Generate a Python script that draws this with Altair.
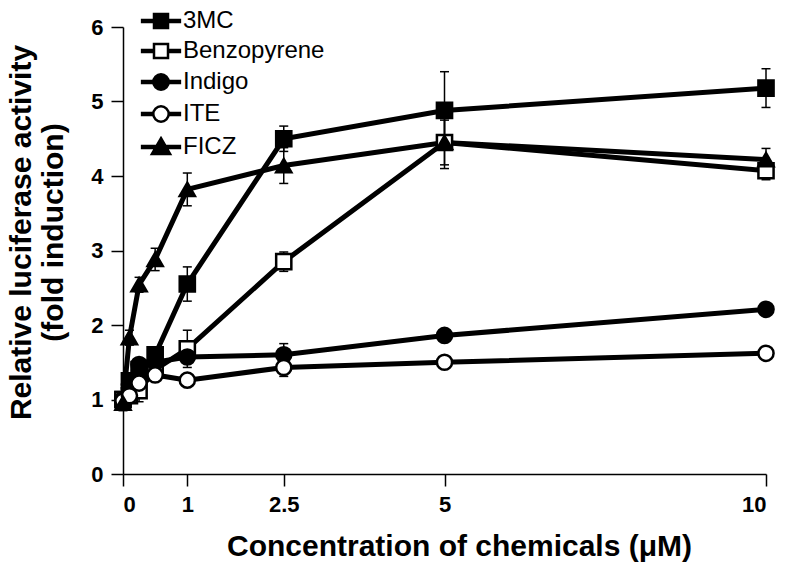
import altair as alt
import pandas as pd

# ---- data ----
conc = [0, 0.1, 0.25, 0.5, 1, 2.5, 5, 10]
series = ["3MC", "Benzopyrene", "Indigo", "ITE", "FICZ"]

mc3_mean = [1.0, 1.25, 1.4, 1.6, 2.55, 4.5, 4.88, 5.18]
mc3_err = [0.05, 0.1, 0.1, 0.1, 0.23, 0.17, 0.52, 0.26]
bap_mean = [1.0, 1.05, 1.12, 1.4, 1.68, 2.85, 4.45, 4.07]
bap_err = [0.05, 0.1, 0.15, 0.1, 0.25, 0.13, 0.35, 0.12]
ind_mean = [1.0, 1.2, 1.47, 1.5, 1.57, 1.6, 1.86, 2.21]
ind_err = [0.05, 0.05, 0.08, 0.05, 0.08, 0.15, 0.08, 0.05]
ite_mean = [0.98, 1.05, 1.22, 1.33, 1.26, 1.43, 1.5, 1.62]
ite_err = [0.05, 0.05, 0.05, 0.05, 0.05, 0.12, 0.05, 0.05]
ficz_mean = [0.95, 1.83, 2.54, 2.88, 3.82, 4.14, 4.45, 4.22]
ficz_err = [0.1, 0.1, 0.1, 0.15, 0.22, 0.24, 0.3, 0.15]

x_ticks = [0, 1, 2.5, 5, 10]
y_ticks = [0, 1, 2, 3, 4, 5, 6]

means = [mc3_mean, bap_mean, ind_mean, ite_mean, ficz_mean]
errs = [mc3_err, bap_err, ind_err, ite_err, ficz_err]

rows = []
for s, m, e in zip(series, means, errs):
    for i, c in enumerate(conc):
        rows.append({"series": s, "conc": c, "mean": m[i],
                     "lo": m[i] - e[i], "hi": m[i] + e[i], "order": i})
df = pd.DataFrame(rows)

# ---- styles ----
FONT = "Liberation Sans"
marker_shapes = ["square", "square", "circle", "circle", "triangle-up"]
marker_fills = ["black", "white", "black", "white", "black"]
legend_paths = [
    "M-2.7,-0.15H2.7V0.15H-2.7Z M-1,-1H1V1H-1Z",
    "M-2.7,-0.15H-1V0.15H-2.7Z M1,-0.15H2.7V0.15H1Z M-1,-1H1V1H-1Z",
    "M-2.7,-0.15H2.7V0.15H-2.7Z M-1.1,0A1.1,1.1 0 1,1 1.1,0A1.1,1.1 0 1,1 -1.1,0Z",
    "M-2.7,-0.15H-1.1V0.15H-2.7Z M1.1,-0.15H2.7V0.15H1.1Z M-1.1,0A1.1,1.1 0 1,1 1.1,0A1.1,1.1 0 1,1 -1.1,0Z",
    "M-2.7,-0.15H2.7V0.15H-2.7Z M0,-1.25L1.3,1H-1.3Z",
]

x_axis = alt.Axis(values=x_ticks, labelExpr="'' + datum.value",
                  title="Concentration of chemicals (μM)",
                  titleFontSize=30, titlePadding=16, titleX=336, labelPadding=8)
y_axis = alt.Axis(values=y_ticks, labelExpr="'' + datum.value",
                  title=["Relative luciferase activity", "(fold induction)"],
                  titleFontSize=30, titlePadding=22, titleLineHeight=32,
                  titleY=205, labelPadding=8)
x_scale = alt.Scale(domain=[0, 10], nice=False, zero=False)
y_scale = alt.Scale(domain=[0, 6], nice=False)


def X():
    return alt.X("conc:Q", scale=x_scale, axis=x_axis)


def Y(field):
    return alt.Y(field + ":Q", scale=y_scale, axis=y_axis)


base = alt.Chart(df)

err_rule = base.mark_rule(color="black", strokeWidth=1.5).encode(
    x=X(), y=Y("lo"), y2="hi:Q")
cap_lo = base.mark_tick(color="black", thickness=1.5, size=9, orient="horizontal",
                        opacity=1).encode(x=X(), y=Y("lo"))
cap_hi = base.mark_tick(color="black", thickness=1.5, size=9, orient="horizontal",
                        opacity=1).encode(x=X(), y=Y("hi"))

lines = base.mark_line(color="black", strokeWidth=5).encode(
    x=X(), y=Y("mean"), detail="series:N", order="order:Q")

points = base.mark_point(filled=True, stroke="black", strokeWidth=2.5,
                         size=230, opacity=1).encode(
    x=X(), y=Y("mean"),
    shape=alt.Shape("series:N", scale=alt.Scale(domain=series, range=marker_shapes),
                    legend=None),
    fill=alt.Fill("series:N", scale=alt.Scale(domain=series, range=marker_fills),
                  legend=None),
)

leg = alt.Legend(orient="none", legendX=26, legendY=-18,
                 labelFontSize=24, labelFont=FONT, labelColor="black",
                 labelOffset=10, rowPadding=6, padding=0,
                 symbolSize=196, symbolStrokeWidth=2.5, symbolStrokeColor="black",
                 symbolOpacity=1)

legend_layer = base.transform_filter("false").mark_point(
    filled=True, stroke="black", strokeWidth=2.5, size=196, opacity=1).encode(
    x=X(), y=Y("mean"),
    shape=alt.Shape("series:N", scale=alt.Scale(domain=series, range=legend_paths),
                    title=None, legend=leg),
    fill=alt.Fill("series:N", scale=alt.Scale(domain=series, range=marker_fills),
                  title=None, legend=leg),
    stroke=alt.Stroke("series:N",
                      scale=alt.Scale(domain=series, range=["black"] * len(series)),
                      title=None, legend=leg),
)

chart = alt.layer(err_rule, cap_lo, cap_hi, lines, points, legend_layer).resolve_scale(
    shape="independent", fill="independent", stroke="independent"
).properties(
    width=643, height=447,
    autosize=alt.AutoSizeParams(type="none"),
    padding={"left": 115, "top": 19, "right": 13, "bottom": 88},
).configure_view(stroke=None).configure_axis(
    grid=False, domainColor="black", domainWidth=1.5, tickColor="black",
    tickWidth=1.5, tickSize=12, labelFont=FONT, labelFontWeight="bold",
    labelFontSize=22, labelColor="black", titleFont=FONT, titleFontWeight="bold",
    titleColor="black",
)

chart.save("out.html", embed_options={"renderer": "svg", "actions": False})
